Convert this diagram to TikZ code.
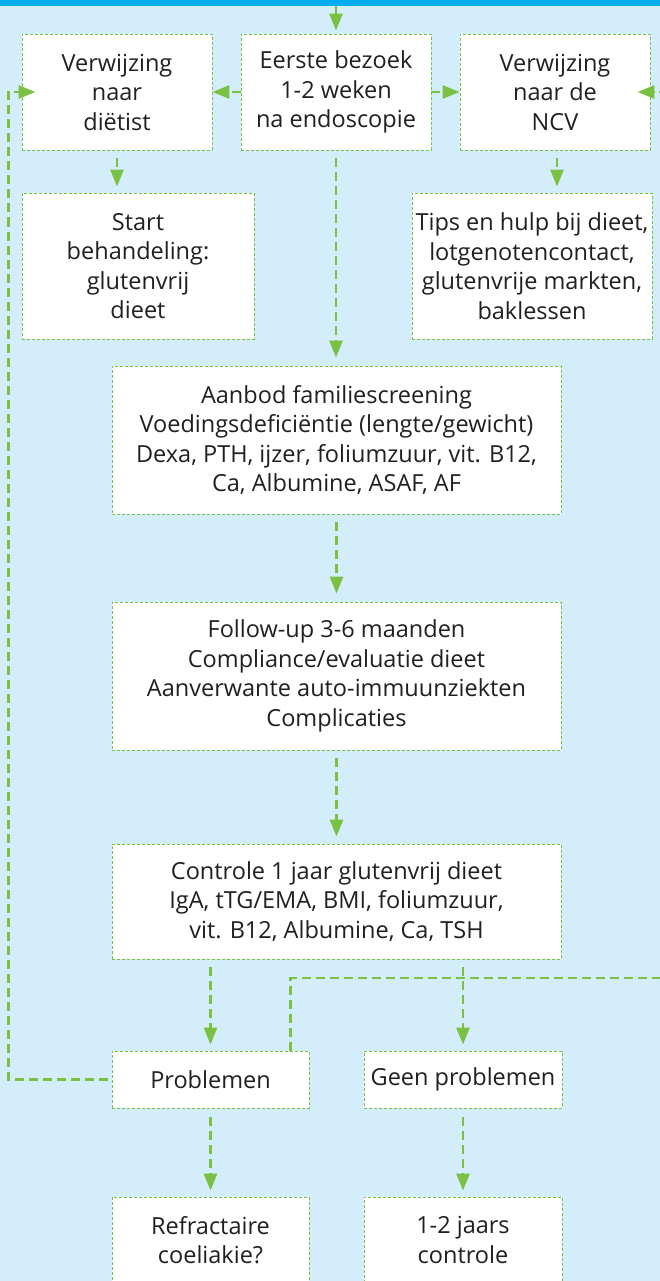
\documentclass[tikz,border=0pt]{standalone}
\usepackage{fontspec}
\setmainfont{Open Sans}
\usetikzlibrary{arrows.meta}
\definecolor{bg}{HTML}{D3EEFA}
\definecolor{topbar}{HTML}{00AEEF}
\definecolor{grn}{HTML}{7AC143}
\definecolor{txt}{HTML}{231F20}
\begin{document}
\begin{tikzpicture}[x=1pt,y=-1pt,
  box/.style={draw=grn, fill=white, line width=0.9pt, dash pattern=on 3pt off 2pt,
    inner sep=0pt, align=center, text=txt, font=\fontsize{23.5}{29.5}\selectfont},
  conn/.style={draw=grn, line width=2.8pt, dash pattern=on 9pt off 5pt,
    -{Triangle[length=17pt,width=13pt]}},
]
\path[use as bounding box, fill=bg] (0,0) rectangle (660,1281);
\clip (0,0) rectangle (660,1281);
\fill[topbar] (0,0) rectangle (660,6);

\node[box, minimum width=190pt, minimum height=116pt] (v) at (117,92) {Verwijzing\\naar\\diëtist};
\node[box, minimum width=190pt, minimum height=116pt] (e) at (336,92) {Eerste bezoek\\1-2 weken\\na endoscopie};
\node[box, minimum width=190pt, minimum height=116pt] (n) at (555,92) {Verwijzing\\naar de\\NCV};
\node[box, minimum width=232pt, minimum height=146pt] (s) at (138,266) {Start\\behandeling:\\glutenvrij\\dieet};
\node[box, minimum width=240pt, minimum height=146pt] (t) at (532,266) {Tips en hulp bij dieet,\\lotgenotencontact,\\glutenvrije markten,\\baklessen};
\node[box, minimum width=449pt, minimum height=148pt] (a) at (336.5,440) {Aanbod familiescreening\\Voedingsdeficiëntie (lengte/gewicht)\\Dexa, PTH, ijzer, foliumzuur, vit. B12,\\Ca, Albumine, ASAF, AF};
\node[box, minimum width=449pt, minimum height=148pt] (f) at (336.5,676) {Follow-up 3-6 maanden\\Compliance/evaluatie dieet\\Aanverwante auto-immuunziekten\\Complicaties};
\node[box, minimum width=449pt, minimum height=115pt] (c) at (336.5,901.5) {Controle 1 jaar glutenvrij dieet\\IgA, tTG/EMA, BMI, foliumzuur,\\vit. B12, Albumine, Ca, TSH};
\node[box, minimum width=197pt, minimum height=57pt] (p) at (210.5,1079.5) {Problemen};
\node[box, minimum width=198pt, minimum height=57pt] (g) at (463,1079.5) {Geen problemen};
\node[box, minimum width=197pt, minimum height=86pt] (r) at (210.5,1240) {Refractaire\\coeliakie?};
\node[box, minimum width=198pt, minimum height=86pt] (j) at (463,1240) {1-2 jaars\\controle};

\coordinate (top) at (336,6);
\coordinate (rr) at (672,978);
\coordinate (ns) at ([xshift=2pt]n.south);
\coordinate (pn) at ([xshift=-19pt]p.north east);

\draw[conn, shorten >=3pt] (top) -- (e.north);
\draw[conn] (e.west) -- (v.east);
\draw[conn] (e.east) -- (n.west);
\draw[conn, shorten <=8pt, shorten >=6pt] (v.south) -- (s.north -| v.south);
\draw[conn, shorten <=8pt, shorten >=6pt] (ns) -- (t.north -| ns);
\draw[conn, shorten <=8pt, shorten >=8pt] (e.south) -- (a.north -| e.south);
\draw[conn, shorten <=8pt, shorten >=8pt] (a.south) -- (f.north);
\draw[conn, shorten <=8pt, shorten >=7pt] (f.south) -- (c.north);
\draw[conn, shorten <=8pt, shorten >=6pt] (p.north |- c.south) -- (p.north);
\draw[conn, shorten <=8pt, shorten >=6pt] (g.north |- c.south) -- (g.north);
\draw[conn, shorten <=9pt, shorten >=6pt] (p.south) -- (r.north);
\draw[conn, shorten <=9pt, shorten >=6pt] (g.south) -- (j.north);
\draw[conn, shorten <=4pt, shorten >=-14pt] (p.west) -- ++(-103,0) |- (v.west);
\draw[conn, shorten >=-13pt] (pn) |- (rr) |- (n.east);
\end{tikzpicture}
\end{document}
